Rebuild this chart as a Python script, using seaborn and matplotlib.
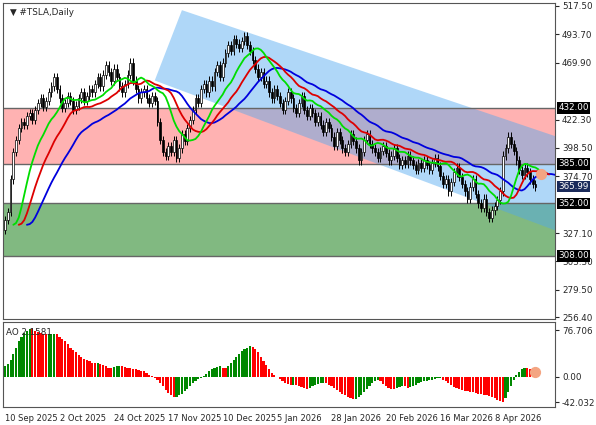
"""TSLA daily chart with Alligator, channel, zones and AO panel."""
import numpy as np
import pandas as pd
import matplotlib
matplotlib.use("Agg")
import matplotlib.pyplot as plt
from matplotlib.patches import Polygon, Rectangle
import seaborn as sns

sns.set_style("white")
plt.rcParams['font.family'] = ['DejaVu Sans']

# daily closes (20 bars per date label)
closes = [
    338, 345, 372, 395, 405, 415, 420, 418, 425, 428, 422, 430, 436, 440, 433, 438, 445, 450, 458, 448,
    440, 432, 436, 442, 438, 430, 434, 440, 445, 438, 442, 448, 445, 452, 458, 450, 460, 468, 462, 455,
    465, 458, 450, 445, 452, 460, 470, 455, 448, 440, 445, 448, 440, 436, 442, 438, 420, 405, 395, 392,
    400, 395, 405, 390, 398, 410, 404, 415, 422, 430, 440, 436, 448, 452, 445, 455, 450, 462, 468, 458,
    470, 478, 485, 480, 490, 486, 482, 488, 492, 485, 480, 472, 465, 458, 462, 452, 455, 445, 440, 448,
    442, 436, 430, 438, 445, 440, 432, 428, 436, 442, 430, 425, 432, 428, 420, 425, 418, 412, 420, 415,
    408, 400, 412, 405, 398, 395, 402, 410, 404, 398, 388, 395, 405, 410, 402, 398, 395, 390, 396, 400,
    394, 388, 392, 398, 390, 384, 388, 385, 392, 388, 384, 380, 386, 382, 388, 384, 380, 386, 390, 383,
    375, 368, 372, 362, 370, 378, 382, 374, 368, 362, 356, 366, 372, 360, 352, 348, 356, 345, 340, 346,
    350, 355, 362, 392, 398, 408, 402, 396, 388, 380, 376, 382, 378, 372, 368, 365.99,
]
first_open = 330
# Awesome Oscillator histogram values
ao_values = [
    17, 20, 28, 37, 48, 58, 66, 72, 76, 79,
    78, 76, 74, 72, 71, 70, 70, 71, 71, 70,
    66, 62, 58, 53, 48, 44, 40, 36, 32, 29, 27, 25, 23, 22, 22,
    21, 19, 17, 15, 14, 16, 17, 18, 17, 16, 15, 14, 13, 12, 11, 10, 9,
    6, 3, 1, -2, -6, -11, -16, -22, -27, -31, -34,
    -33, -31, -28, -24, -20, -15, -11, -7, -4, -2, 1,
    5, 9, 12, 15, 16, 17, 15, 14,
    17, 22, 28, 33, 38, 42, 46, 48, 50, 49,
    45, 40, 33, 26, 19, 12, 6, 2, -1,
    -4, -7, -10, -12, -14, -13, -14, -15, -17, -19, -20,
    -18, -16, -14, -12, -10, -10, -11,
    -13, -16, -19, -22, -25, -28, -31, -34, -36, -37, -37,
    -34, -30, -25, -20, -15, -10, -7, -5,
    -8, -12, -15, -18, -20, -21,
    -19, -17, -15, -16, -18, -17, -15, -13, -11, -9, -8, -7, -6, -5, -4, -3, -2,
    -5, -8, -11, -14, -17, -19, -21, -22, -23, -24, -25, -26, -27, -28, -29, -30, -31, -32,
    -34, -36, -38, -40, -41,
    -35, -26, -15, -5, 2, 8, 12, 15, 14, 12, 10, 8,
]
date_labels = ["10 Sep 2025", "2 Oct 2025", "24 Oct 2025", "17 Nov 2025", "10 Dec 2025",
               "5 Jan 2026", "28 Jan 2026", "20 Feb 2026", "16 Mar 2026", "8 Apr 2026"]
price_ticks = [517.50, 493.70, 469.90, 422.30, 398.50, 374.70, 327.10, 303.30, 279.50, 256.40]
level_boxes = [432.00, 385.00, 352.00, 308.00]
last_price = 365.99
ao_ticks = [76.706, 0.00, -42.032]
ao_name = "AO 2.1581"
# channel corners (bar index, price)
channel = [(55, 455), (65, 514), (217, 397), (205, 327)]
up_arrow = [(186, 386), (203, 429)]
down_arrow = [(197, 350), (203, 310)]

c = np.array(closes, dtype=float)
o = np.concatenate([[first_open], c[:-1]])
hi = np.maximum(o, c) + 3.5
lo = np.minimum(o, c) - 3.5
n = len(c)
x = np.arange(n)
df = pd.DataFrame({"x": x, "open": o, "close": c, "high": hi, "low": lo})
df["median"] = (df["high"] + df["low"]) / 2


def smma(s, period, shift):
    v = s.ewm(alpha=1 / period, adjust=False).mean()
    return pd.Series(v.values, index=s.index + shift)


jaw = smma(df["median"], 13, 8)
teeth = smma(df["median"], 8, 5)
lips = smma(df["median"], 5, 3)
ao = pd.Series(ao_values, dtype=float)

fig = plt.figure(figsize=(5.96, 4.25), dpi=100)
ax = fig.add_axes([3 / 596, 1 - 319 / 425, 552 / 596, 316 / 425])
ax2 = fig.add_axes([3 / 596, 1 - 407 / 425, 552 / 596, 85 / 425])
x_lo, x_hi = -0.8, 202.2
for a in (ax, ax2):
    a.set_xlim(x_lo, x_hi)
    for s in a.spines.values():
        s.set_color("#555555")
        s.set_linewidth(0.8)
ax.set_ylim(255.0, 520.0)

# zones
ax.add_patch(Rectangle((x_lo, 385), x_hi - x_lo, 47, color="#ff8080", alpha=0.6, lw=0, zorder=1))
ax.add_patch(Rectangle((x_lo, 308), x_hi - x_lo, 44, color="#2e8b2e", alpha=0.6, lw=0, zorder=1))
for lv in level_boxes:
    ax.axhline(lv, color="#666666", lw=1, zorder=2)
ax.add_patch(Polygon(channel, closed=True, color="#4ea8f0", alpha=0.45, lw=0, zorder=1.5))

# candles
for _, r in df.iterrows():
    up = r["close"] >= r["open"]
    ax.vlines(r["x"], r["low"], r["high"], color="black", lw=0.7, zorder=3)
    ax.add_patch(Rectangle((r["x"] - 0.32, min(r["open"], r["close"])), 0.64,
                           max(abs(r["close"] - r["open"]), 0.5),
                           facecolor="white" if up else "black", edgecolor="black",
                           lw=0.5, zorder=3))

sns.lineplot(x=jaw.index, y=jaw.values, ax=ax, color="#0000dd", lw=1.3, zorder=4)
sns.lineplot(x=teeth.index, y=teeth.values, ax=ax, color="#dd0000", lw=1.3, zorder=4)
sns.lineplot(x=lips.index, y=lips.values, ax=ax, color="#00dd00", lw=1.3, zorder=4)
ax.scatter([n + 1], [teeth.iloc[-1]], s=50, color="#f4a582", zorder=5)

ax.annotate("", xy=up_arrow[1], xytext=up_arrow[0],
            arrowprops=dict(arrowstyle="-|>", color="red", ls="--", lw=1.5), zorder=6)
ax.annotate("", xy=down_arrow[1], xytext=down_arrow[0],
            arrowprops=dict(arrowstyle="-|>", color="green", ls="--", lw=1.5), zorder=6)

ax.yaxis.tick_right()
ax.set_yticks(price_ticks)
ax.set_yticklabels([f"{t:.2f}" for t in price_ticks], fontsize=6.3)
ax.tick_params(axis="y", length=3, pad=2)
ax.set_xticks([])
for lv in level_boxes:
    ax.text(1.006, lv, f"{lv:.2f}", transform=ax.get_yaxis_transform(), fontsize=6.3,
            va="center", ha="left", color="white",
            bbox=dict(boxstyle="square,pad=0.15", fc="black", ec="none"))
ax.text(1.006, last_price, f"{last_price:.2f}", transform=ax.get_yaxis_transform(), fontsize=6.3,
        va="center", ha="left", color="white",
        bbox=dict(boxstyle="square,pad=0.15", fc="#1a2a5a", ec="none"))
ax.text(0.012, 0.985, "▼ #TSLA,Daily", transform=ax.transAxes, fontsize=6.3, va="top")

# AO histogram
ao_colors = ["#008800" if i == 0 or ao.iloc[i] >= ao.iloc[i - 1] else "#ff0000" for i in range(len(ao))]
ax2.bar(np.arange(len(ao)), ao.values, width=0.8, color=ao_colors, linewidth=0, zorder=3)
ax2.scatter([len(ao) - 1], [ao.iloc[-1]], s=50, color="#f4a582", zorder=4)
ax2.set_ylim(-50, 90)
ax2.yaxis.tick_right()
ax2.set_yticks(ao_ticks)
ax2.set_yticklabels(["76.706", "0.00", "-42.032"], fontsize=6.3)
ax2.tick_params(axis="y", length=3, pad=2)
ax2.set_xticks([20 * k for k in range(len(date_labels))])
ax2.set_xticklabels(date_labels, fontsize=6, ha="left")
ax2.tick_params(axis="x", length=3, pad=2)
ax2.text(0.005, 0.93, ao_name, transform=ax2.transAxes, fontsize=6.3, va="top")

fig.savefig("out.png", dpi=100)
